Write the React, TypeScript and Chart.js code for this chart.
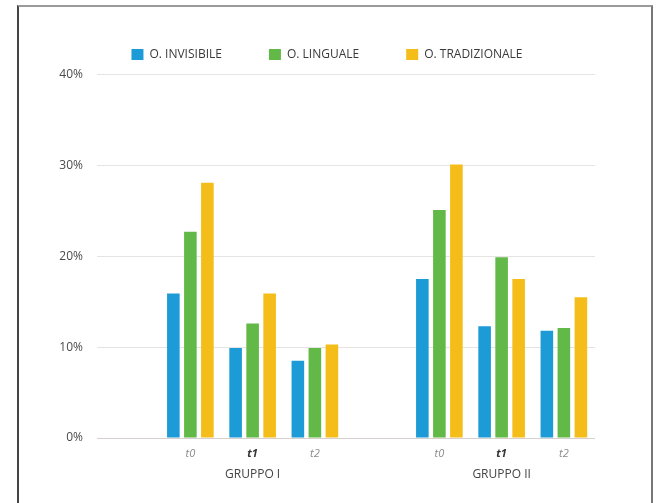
import React, { useEffect, useRef } from "react";
import { Chart, registerables } from "chart.js";

Chart.register(...registerables);

const categories = ["", "t0", "t1", "t2", "", "t0", "t1", "t2"];
const groupLabels = ["", "", "GRUPPO I", "", "", "", "GRUPPO II", ""];
const seriesNames = ["O. INVISIBILE", "O. LINGUALE", "O. TRADIZIONALE"];
const invisibile = [null, 15.9, 9.9, 8.5, null, 17.5, 12.3, 11.8];
const linguale = [null, 22.7, 12.6, 9.9, null, 25.1, 19.9, 12.1];
const tradizionale = [null, 28.1, 15.9, 10.3, null, 30.1, 17.5, 15.5];
const yTicks = [0, 10, 20, 30, 40];

const colors = ["#1d9bd7", "#63b947", "#f4bd19"];
const FONT = "'Open Sans', sans-serif";

export default function App() {
  const ref = useRef<HTMLCanvasElement | null>(null);

  useEffect(() => {
    if (!ref.current) return;
    const legendHeightPlugin = {
      id: "legendHeight",
      beforeInit(chart: any) {
        const orig = chart.legend.fit;
        chart.legend.fit = function () {
          orig.call(this);
          this.height = 73;
        };
      },
    };
    const chart = new Chart(ref.current, {
      type: "bar",
      data: {
        labels: categories,
        datasets: [invisibile, linguale, tradizionale].map((d, i) => ({
          label: seriesNames[i],
          data: d as any,
          backgroundColor: colors[i],
          borderWidth: 0,
          categoryPercentage: 0.82,
          barPercentage: 0.74,
        })),
      },
      options: {
        animation: false,
        responsive: true,
        maintainAspectRatio: false,
        layout: { padding: { top: -5.5, left: 40, right: 56, bottom: 15 } },
        plugins: {
          tooltip: { enabled: false },
          legend: {
            position: "top",
            align: "center",
            labels: {
              boxWidth: 12,
              boxHeight: 11,
              padding: 47,
              color: "#3a3a3a",
              font: { family: FONT, size: 12 },
            },
          },
        },
        scales: {
          x: {
            type: "category",
            offset: true,
            grid: { display: false, drawTicks: false },
            border: { display: false },
            afterFit: (s: any) => {
              s.height = 24;
            },
            ticks: {
              padding: 9,
              autoSkip: false,
              maxRotation: 0,
              color: (c: any) => (categories[c.index] === "t1" ? "#333" : "#8a8a8a"),
              font: (c: any) =>
                categories[c.index] === "t1"
                  ? { family: FONT, size: 11, style: "italic", weight: "bold" }
                  : { family: FONT, size: 11, style: "italic", weight: "normal" },
            },
          },
          x2: {
            type: "category",
            labels: groupLabels,
            position: "bottom",
            offset: true,
            grid: { display: false, drawTicks: false },
            border: { display: false },
            afterFit: (s: any) => {
              s.height = 30;
            },
            ticks: {
              padding: 5,
              autoSkip: false,
              maxRotation: 0,
              color: "#444",
              font: { family: FONT, size: 12 },
            },
          },
          y: {
            min: 0,
            max: 40,
            afterFit: (s: any) => {
              s.width = 38;
            },
            afterBuildTicks: (s: any) => {
              s.ticks = yTicks.map((v) => ({ value: v }));
            },
            border: { display: false },
            grid: {
              drawTicks: false,
              color: (c: any) => (c.tick && c.tick.value === 0 ? "#d6d0d0" : "#e6e3e3"),
              lineWidth: 1,
            },
            ticks: {
              padding: 14,
              color: "#4a4a4a",
              font: { family: FONT, size: 12 },
              callback: (v: any) => v + "%",
            },
          },
        },
      },
      plugins: [legendHeightPlugin],
    });
    return () => chart.destroy();
  }, []);

  return (
    <div
      style={{
        position: "fixed",
        left: 17,
        top: 5,
        width: 632,
        height: 500,
        borderTop: "2px solid #9a9a9a",
        borderLeft: "2px solid #444",
        borderRight: "2px solid #777",
        background: "#fff",
      }}
    >
      <canvas ref={ref} />
    </div>
  );
}
